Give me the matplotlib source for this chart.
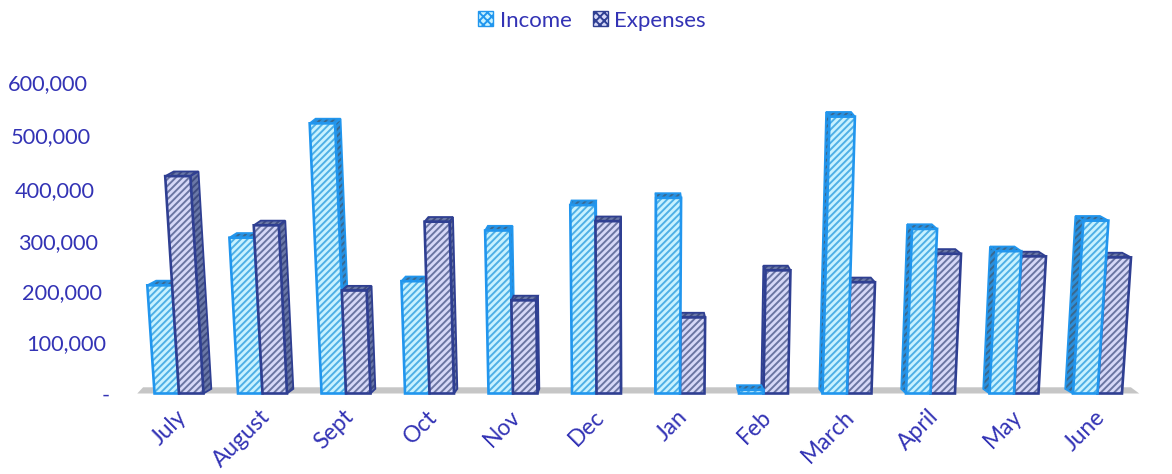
#!/usr/bin/env python3

import matplotlib
matplotlib.use("Agg")
import matplotlib.pyplot as plt
from matplotlib.patches import Patch, Polygon
from matplotlib.transforms import ScaledTranslation

months = ["July", "August", "Sept", "Oct", "Nov", "Dec", "Jan", "Feb", "March", "April", "May", "June"]
income = [209000, 301000, 522000, 217000, 315000, 364000, 378000, 7000, 535000, 318000, 275000, 334000]
expenses = [420000, 325000, 199000, 332000, 180000, 333000, 147000, 238000, 215000, 270000, 265000, 263000]
yticks = [0, 100000, 200000, 300000, 400000, 500000, 600000]

TEXT = "#3333b5"
W, H = 1172, 474
BAR_W = 0.293
CX = 5.52        # vanishing point of the fake 3d
LEAN = 0.0428
DEPTH = 0.018
LIFT = 9000
HATCH = "/////"

plt.rcParams["font.family"] = ["Lato", "DejaVu Sans"]
plt.rcParams["hatch.linewidth"] = 1.4


def project(x, v):
    return x + (x - CX) * LEAN * v / 600000


def back(x, v):
    px = project(x, v)
    return px + (CX - px) * DEPTH, v + LIFT


def draw_bar(ax, x0, v, style):
    x1 = x0 + BAR_W
    bl, br = (project(x0, 0), 0), (project(x1, 0), 0)
    tl, tr = (project(x0, v), v), (project(x1, v), v)
    bbl, bbr = back(x0, 0), back(x1, 0)
    btl, btr = back(x0, v), back(x1, v)

    faces = [[tl, tr, btr, btl]]
    # the side face only shows on the one turned to the middle of the chart
    if x1 < CX:
        faces.append([br, tr, btr, bbr])
    elif x0 > CX:
        faces.append([bl, tl, btl, bbl])
    for pts in faces:
        ax.add_patch(Polygon(pts, closed=True, fc=style["side"], ec=style["side_hatch"], lw=0,
                             clip_on=False, hatch=HATCH))
        ax.add_patch(Polygon(pts, closed=True, fill=False, ec=style["edge"], lw=1.3, clip_on=False))

    front = [bl, br, tr, tl]
    ax.add_patch(Polygon(front, closed=True, fc=style["face"], ec=style["hatch"], lw=0, clip_on=False, hatch=HATCH))
    ax.add_patch(Polygon(front, closed=True, fill=False, ec=style["edge"], lw=1.9, clip_on=False))


income_style = {"face": "#c8f2ff", "hatch": "#4fb0e6", "edge": "#2196ee",
                "side": "#2a8fdc", "side_hatch": "#39688f"}
expense_style = {"face": "#d6d8f8", "hatch": "#6a75a2", "edge": "#2f3f92",
                 "side": "#6a78a8", "side_hatch": "#3f4c80"}

fig = plt.figure(figsize=(W / 100, H / 100), dpi=100)
ax = fig.add_axes([137.25 / W, (H - 393.5) / H, 1002 / W, 310.5 / H])
ax.set_xlim(-0.5, 11.5)
ax.set_ylim(0, 600000)
for s in ax.spines.values():
    s.set_visible(False)

# grey floor, narrower at the back
ax.add_patch(Polygon([(-0.5, 0), (11.5, 0), (11.4, 12000), (-0.43, 12000)],
                     closed=True, fc="#c6c6c6", ec="none", clip_on=False, zorder=0.5))

bars = []
for i in range(len(months)):
    bars.append((i - BAR_W, income[i], income_style))
    bars.append((float(i), expenses[i], expense_style))
# far from the middle first, so nearer bars paint over them
bars.sort(key=lambda b: -abs(b[0] + BAR_W / 2 - CX))
for x0, v, style in bars:
    draw_bar(ax, x0, v, style)

ax.set_xticks(range(len(months)))
ax.set_xticklabels(months, rotation=45, ha="right", rotation_mode="anchor", fontsize=16.5, color=TEXT)
ax.tick_params(axis="x", length=0, pad=9)
ax.set_yticks(yticks)
ax.set_yticklabels([f"{v:,}" if v else "-" for v in yticks], fontsize=15.7, color=TEXT)
ax.tick_params(axis="y", length=0, pad=20)

# y labels follow the same lean as the bars, and spread a little towards the top
nudge_y = [0, 0, -1, -2.5, -2.5, -0.5, 1]
for v, dy, label in zip(yticks, nudge_y, ax.get_yticklabels()):
    dx = -22 * v / 600000 / 100
    label.set_transform(label.get_transform() + ScaledTranslation(dx, dy / 100, fig.dpi_scale_trans))

# month labels sit a bit left of the tick
for label in ax.get_xticklabels():
    label.set_transform(label.get_transform() + ScaledTranslation(-0.03, 0, fig.dpi_scale_trans))

handles = [
    Patch(facecolor="#c8f2ff", edgecolor="#2196ee", hatch="xxxx", label="Income"),
    Patch(facecolor="#d6d8f8", edgecolor="#2f3f92", hatch="xxxx", label="Expenses"),
]
fig.legend(handles=handles, loc="upper center", bbox_to_anchor=(0.505, 1.02), ncol=2, frameon=False,
           fontsize=16, labelcolor=TEXT, handlelength=0.68, handleheight=0.68,
           handletextpad=0.3, columnspacing=0.95)

fig.savefig("out.png", dpi=100)
